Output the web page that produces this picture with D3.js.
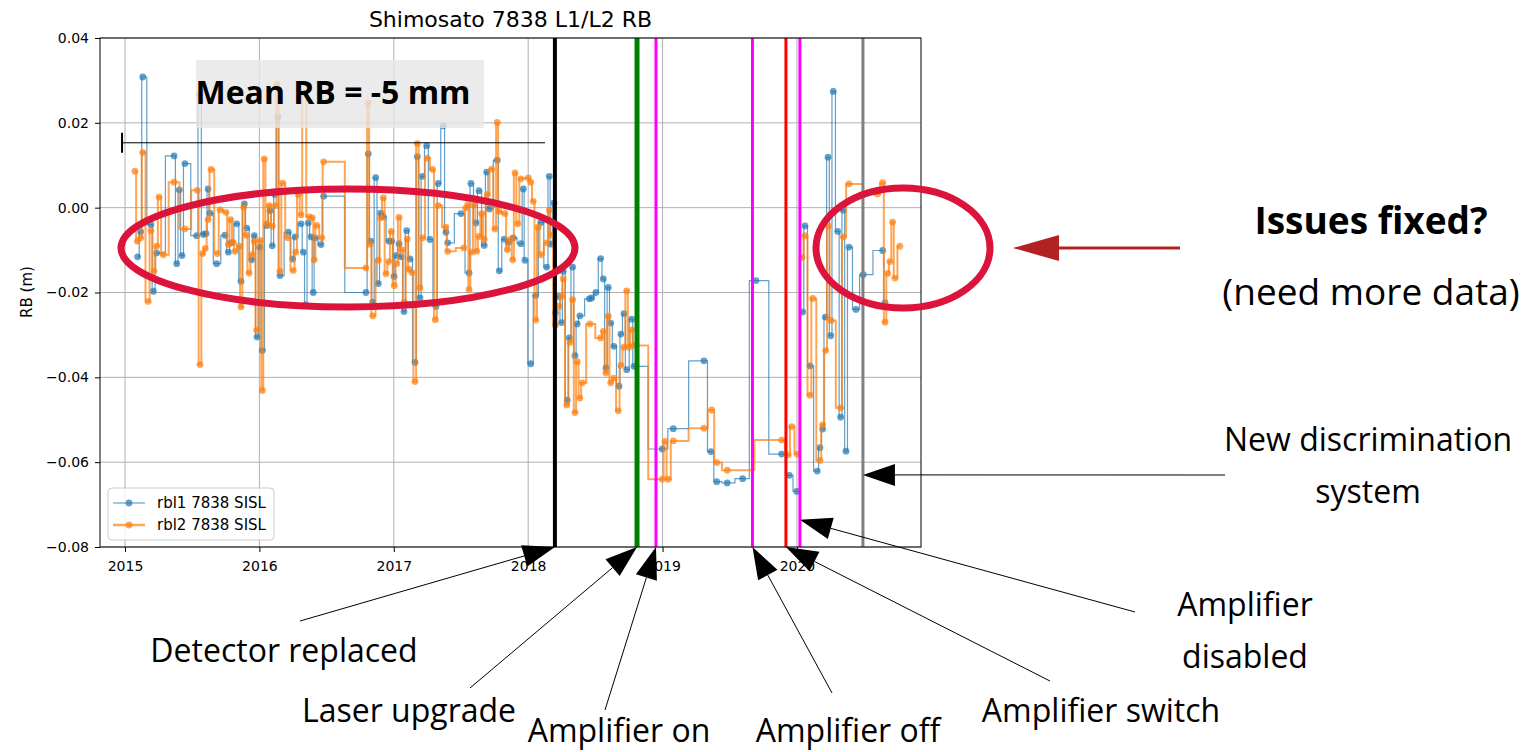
<!DOCTYPE html>
<html><head><meta charset="utf-8">
<script src="https://cdn.jsdelivr.net/npm/d3@7"></script>
<style>body{margin:0;background:#fff;}svg{display:block}</style>
</head><body>
<svg id="c" width="1532" height="752"></svg>
<script>
// ---------------- DATA ----------------
const xTickYears = [2015, 2016, 2017, 2018, 2019, 2020];
const yTickValues = [0.04, 0.02, 0.00, -0.02, -0.04, -0.06, -0.08];

const blueYears = [
2015.094,2015.117,2015.132,2015.193,2015.211,2015.236,2015.365,2015.385,2015.404,2015.424,
2015.446,2015.533,2015.553,2015.583,2015.603,2015.618,2015.632,2015.682,2015.744,2015.769,
2015.789,2015.831,2015.863,2015.888,2015.906,2015.943,2015.962,2015.982,2016.002,2016.022,
2016.054,2016.079,2016.096,2016.116,2016.136,2016.153,2016.215,2016.248,2016.265,2016.310,
2016.327,2016.345,2016.364,2016.384,2016.401,2016.414,2016.458,2016.478,2016.793,2016.810,
2016.828,2016.843,2016.865,2016.885,2016.903,2016.922,2016.964,2016.984,2017.002,2017.016,
2017.039,2017.054,2017.076,2017.096,2017.121,2017.158,2017.175,2017.195,2017.212,2017.245,
2017.269,2017.314,2017.331,2017.368,2017.388,2017.401,2017.500,2017.560,2017.574,2017.612,
2017.634,2017.673,2017.691,2017.711,2017.770,2017.785,2017.822,2017.852,2017.889,2017.946,
2017.964,2017.976,2018.019,2018.056,2018.095,2018.138,2018.157,2018.170,2018.192,2018.203,
2018.224,2018.249,2018.261,2018.291,2018.306,2018.331,2018.348,2018.365,2018.385,2018.455,
2018.472,2018.504,2018.539,2018.559,2018.579,2018.596,2018.614,2018.638,2018.676,2018.690,
2018.713,2018.733,2018.770,2018.787,2018.998,2019.080,2019.308,2019.360,2019.403,2019.481,
2019.596,2019.695,2019.886,2019.943,2019.998,2020.042,2020.060,2020.097,2020.151,2020.171,
2020.191,2020.211,2020.231,2020.251,2020.270,2020.303,2020.325,2020.345,2020.365,2020.387,
2020.439,2020.493,2020.638,2020.655];
const blueRB = [
-0.0116,-0.0057,0.0308,-0.0040,-0.0197,-0.0107,0.0122,-0.0132,0.0042,-0.0113,
0.0104,-0.0066,0.0267,-0.0063,-0.0061,0.0044,-0.0013,-0.0132,-0.0065,-0.0105,
-0.0083,-0.0038,-0.0174,0.0009,-0.0048,-0.0123,-0.0066,-0.0305,-0.0093,-0.0337,
-0.0042,-0.0007,-0.0090,0.0031,0.0214,-0.0160,-0.0058,-0.0121,-0.0069,-0.0038,
-0.0105,-0.0229,-0.0036,-0.0069,-0.0200,-0.0071,-0.0087,0.0027,-0.0200,0.0127,
-0.0079,-0.0223,0.0071,-0.0179,-0.0013,-0.0021,-0.0079,-0.0079,-0.0162,-0.0113,
-0.0085,-0.0116,-0.0245,-0.0054,-0.0121,-0.0365,0.0120,-0.0213,0.0074,0.0146,
-0.0075,-0.0233,0.0057,0.0193,-0.0058,-0.0083,-0.0014,-0.0154,0.0057,-0.0036,
0.0040,-0.0089,0.0084,-0.0003,0.0112,-0.0149,-0.0074,-0.0082,-0.0071,-0.0085,
0.0044,-0.0124,-0.0368,-0.0207,-0.0035,-0.0140,0.0074,-0.0086,0.0011,-0.0248,
-0.0209,-0.0271,-0.0150,-0.0454,-0.0307,-0.0140,-0.0349,-0.0274,-0.0255,-0.0215,
-0.0213,-0.0200,-0.0120,-0.0168,-0.0378,-0.0188,-0.0272,-0.0327,-0.0421,-0.0298,
-0.0250,-0.0382,-0.0263,-0.0374,-0.0569,-0.0521,-0.0361,-0.0575,-0.0646,-0.0649,
-0.0639,-0.0172,-0.0581,-0.0631,-0.0669,-0.0246,-0.0043,-0.0373,-0.0621,-0.0566,
-0.0522,-0.0258,0.0119,-0.0302,0.0274,-0.0056,-0.0494,-0.0006,-0.0574,-0.0093,
-0.0240,-0.0158,-0.0101,-0.0224];

const orangeYears = [
2015.074,2015.092,2015.117,2015.132,2015.173,2015.193,2015.216,2015.236,2015.253,2015.285,
2015.365,2015.446,2015.538,2015.558,2015.578,2015.597,2015.618,2015.640,2015.688,2015.707,
2015.751,2015.769,2015.786,2015.806,2015.818,2015.850,2015.863,2015.883,2015.900,2015.923,
2015.943,2015.962,2015.980,2016.007,2016.022,2016.036,2016.054,2016.074,2016.096,2016.121,
2016.131,2016.153,2016.173,2016.211,2016.252,2016.270,2016.289,2016.310,2016.327,2016.371,
2016.394,2016.408,2016.426,2016.464,2016.478,2016.793,2016.810,2016.823,2016.843,2016.885,
2016.903,2016.922,2016.942,2016.962,2016.981,2017.004,2017.022,2017.039,2017.059,2017.078,
2017.100,2017.113,2017.135,2017.158,2017.175,2017.195,2017.215,2017.249,2017.289,2017.309,
2017.331,2017.388,2017.401,2017.522,2017.535,2017.550,2017.560,2017.580,2017.597,2017.617,
2017.634,2017.654,2017.673,2017.696,2017.728,2017.753,2017.770,2017.783,2017.827,2017.845,
2017.870,2017.885,2017.902,2017.922,2017.946,2018.001,2018.019,2018.038,2018.056,2018.075,
2018.095,2018.138,2018.157,2018.170,2018.203,2018.229,2018.249,2018.261,2018.287,2018.311,
2018.331,2018.348,2018.365,2018.385,2018.403,2018.460,2018.539,2018.559,2018.579,2018.596,
2018.614,2018.638,2018.670,2018.690,2018.713,2018.733,2018.750,2018.770,2018.789,2018.998,
2019.018,2019.042,2019.080,2019.308,2019.365,2019.403,2019.481,2019.886,2019.935,2019.961,
2020.002,2020.039,2020.060,2020.097,2020.117,2020.171,2020.191,2020.214,2020.233,2020.253,
2020.325,2020.345,2020.387,2020.598,2020.638,2020.655,2020.675,2020.692,2020.712,2020.729,
2020.766];
const orangeRB = [
0.0086,-0.0079,-0.0071,0.0130,-0.0221,-0.0054,-0.0150,-0.0091,0.0025,-0.0111,
0.0060,-0.0050,0.0041,-0.0370,-0.0108,-0.0096,-0.0028,0.0090,-0.0108,-0.0005,
-0.0011,-0.0087,-0.0028,-0.0082,-0.0103,-0.0091,-0.0234,0.0001,-0.0065,-0.0154,
-0.0111,-0.0079,-0.0289,-0.0077,-0.0431,0.0115,-0.0038,0.0005,-0.0044,0.0005,
0.0292,-0.0150,0.0058,-0.0071,-0.0148,-0.0105,0.0031,-0.0017,0.0271,-0.0022,
-0.0024,-0.0123,-0.0042,-0.0071,0.0108,-0.0142,0.0247,-0.0086,-0.0255,-0.0124,
-0.0024,0.0023,-0.0156,-0.0127,-0.0056,-0.0184,-0.0132,-0.0023,-0.0099,-0.0223,
-0.0074,-0.0145,-0.0153,-0.0410,0.0151,-0.0189,-0.0071,0.0117,0.0090,-0.0264,
0.0005,-0.0046,-0.0103,-0.0095,-0.0001,0.0007,-0.0193,-0.0105,0.0007,-0.0103,
-0.0068,-0.0014,-0.0075,0.0031,0.0091,-0.0050,0.0201,-0.0009,-0.0014,-0.0099,
-0.0075,-0.0123,0.0082,-0.0038,0.0068,0.0070,0.0060,0.0015,-0.0265,-0.0046,
-0.0111,-0.0083,-0.0006,-0.0064,-0.0277,-0.0233,-0.0209,-0.0168,-0.0465,-0.0318,
-0.0217,-0.0483,-0.0363,-0.0449,-0.0413,-0.0274,-0.0307,-0.0292,-0.0390,-0.0256,
-0.0413,-0.0402,-0.0479,-0.0372,-0.0329,-0.0196,-0.0329,-0.0288,-0.0325,-0.0640,
-0.0551,-0.0640,-0.0550,-0.0520,-0.0477,-0.0601,-0.0619,-0.0548,-0.0583,-0.0516,
-0.0581,-0.0117,-0.0066,-0.0442,-0.0214,-0.0596,-0.0512,-0.0337,-0.0043,-0.0266,
-0.0472,-0.0069,0.0056,0.0032,0.0059,-0.0270,-0.0155,-0.0127,-0.0034,-0.0166,
-0.0091];

const seriesNames = ["rbl1 7838 SISL", "rbl2 7838 SISL"];
const eventYears = [2018.199, 2018.810, 2018.951, 2019.669, 2019.918, 2020.022, 2020.491];
const eventColors = ["#000000", "#008000", "#ff00ff", "#ff00ff", "#ff0000", "#ff00ff", "#808080"];
const eventWidths = [4, 5, 3, 3, 3, 3, 3];
const meanLineLevel = 0.0153;
const meanLineYears = [2014.978, 2018.125];
const meanLabel = "Mean RB = -5 mm";

// ---------------- CHART ----------------
const svg = d3.select("#c");
const M = {l: 100, r: 921, t: 38, b: 547};
const x = d3.scaleLinear().domain([2014.814, 2020.923]).range([M.l, M.r]);
const y = d3.scaleLinear().domain([-0.08, 0.04]).range([M.b, M.t]);
const FONT = "DejaVu Sans, sans-serif";
const AFONT = "'Open Sans', sans-serif";

// grid
const grid = svg.append("g");
grid.selectAll(".gx").data(xTickYears).join("line")
  .attr("x1", d => x(d)).attr("x2", d => x(d)).attr("y1", M.t).attr("y2", M.b)
  .attr("stroke", "#b0b0b0").attr("stroke-width", 1);
grid.selectAll(".gy").data(yTickValues).join("line")
  .attr("x1", M.l).attr("x2", M.r).attr("y1", d => y(d)).attr("y2", d => y(d))
  .attr("stroke", "#b0b0b0").attr("stroke-width", 1);

// series
const blue = blueYears.map((d, i) => ({t: d, v: blueRB[i]}));
const orange = orangeYears.map((d, i) => ({t: d, v: orangeRB[i]}));
const line = d3.line().x(d => x(d.t)).y(d => y(d.v)).curve(d3.curveStep);

function drawSeries(data, color, w) {
  const g = svg.append("g");
  g.append("path").datum(data).attr("d", line).attr("fill", "none")
    .attr("stroke", color).attr("stroke-width", w).attr("stroke-opacity", 0.7)
    .attr("stroke-linejoin", "miter");
  g.selectAll("circle").data(data).join("circle")
    .attr("cx", d => x(d.t)).attr("cy", d => y(d.v)).attr("r", 3.4)
    .attr("fill", color).attr("fill-opacity", 0.7);
}
drawSeries(blue, "#1f77b4", 1.2);
drawSeries(orange, "#ff7f0e", 2);

// event lines
svg.append("g").selectAll("line").data(eventYears).join("line")
  .attr("x1", d => x(d)).attr("x2", d => x(d)).attr("y1", M.t).attr("y2", M.b)
  .attr("stroke", (d, i) => eventColors[i]).attr("stroke-width", (d, i) => eventWidths[i]);

// frame
svg.append("rect").attr("x", M.l).attr("y", M.t).attr("width", M.r - M.l).attr("height", M.b - M.t)
  .attr("fill", "none").attr("stroke", "#000").attr("stroke-width", 1);

// axes
const ax = svg.append("g").attr("transform", `translate(0,${M.b})`)
  .call(d3.axisBottom(x).tickValues(xTickYears).tickFormat(d3.format("d")).tickSize(5).tickPadding(9));
ax.select(".domain").remove();
ax.attr("font-family", FONT).attr("font-size", 14);
const ay = svg.append("g").attr("transform", `translate(${M.l},0)`)
  .call(d3.axisLeft(y).tickValues(yTickValues).tickFormat(d3.format(".2f")).tickSize(5).tickPadding(6));
ay.select(".domain").remove();
ay.attr("font-family", FONT).attr("font-size", 14);

svg.append("text").attr("transform", `translate(32,292) rotate(-90)`)
  .attr("text-anchor", "middle").attr("font-family", FONT).attr("font-size", 15).text("RB (m)");

svg.append("text").attr("x", (M.l + M.r) / 2).attr("y", 27).attr("text-anchor", "middle")
  .attr("font-family", FONT).attr("font-size", 22).text("Shimosato 7838 L1/L2 RB");

// mean line with cap
svg.append("line").attr("x1", x(meanLineYears[0])).attr("x2", x(meanLineYears[1]))
  .attr("y1", y(meanLineLevel)).attr("y2", y(meanLineLevel)).attr("stroke", "#000").attr("stroke-width", 1);
svg.append("line").attr("x1", x(meanLineYears[0])).attr("x2", x(meanLineYears[0]))
  .attr("y1", y(meanLineLevel) - 10).attr("y2", y(meanLineLevel) + 10).attr("stroke", "#000").attr("stroke-width", 2);

// mean label box
svg.append("rect").attr("x", 196).attr("y", 60).attr("width", 288).attr("height", 68)
  .attr("fill", "#e6e6e6").attr("fill-opacity", 0.8);
svg.append("text").attr("x", 333).attr("y", 104).attr("text-anchor", "middle")
  .attr("font-family", AFONT).attr("font-weight", "bold").attr("font-size", 32).text(meanLabel);

// legend
const lg = svg.append("g");
lg.append("rect").attr("x", 108).attr("y", 488).attr("width", 166).attr("height", 52).attr("rx", 4)
  .attr("fill", "#fff").attr("fill-opacity", 0.8).attr("stroke", "#cccccc");
[["#1f77b4", 1.2], ["#ff7f0e", 2.5]].forEach((s, i) => {
  const yy = 503 + i * 22;
  lg.append("line").attr("x1", 113).attr("x2", 145).attr("y1", yy).attr("y2", yy)
    .attr("stroke", s[0]).attr("stroke-width", s[1]).attr("stroke-opacity", 0.7);
  lg.append("circle").attr("cx", 129).attr("cy", yy).attr("r", 3.4).attr("fill", s[0]).attr("fill-opacity", 0.7);
  lg.append("text").attr("x", 157).attr("y", yy + 5).attr("font-family", FONT).attr("font-size", 15).text(seriesNames[i]);
});

// ellipses
svg.append("ellipse").attr("cx", 348).attr("cy", 248).attr("rx", 227).attr("ry", 59)
  .attr("fill", "none").attr("stroke", "#dc143c").attr("stroke-width", 7);
svg.append("ellipse").attr("cx", 903).attr("cy", 248).attr("rx", 87).attr("ry", 60)
  .attr("fill", "none").attr("stroke", "#dc143c").attr("stroke-width", 7);

// arrows
function arrow(sx, sy, tx, ty, color, lw, L, Wd) {
  const dx = tx - sx, dy = ty - sy, len = Math.hypot(dx, dy);
  const ux = dx / len, uy = dy / len, nx = -uy, ny = ux;
  const bx = tx - ux * L, by = ty - uy * L;
  svg.append("line").attr("x1", sx).attr("y1", sy).attr("x2", bx).attr("y2", by)
    .attr("stroke", color).attr("stroke-width", lw);
  svg.append("path").attr("d", `M${tx},${ty}L${bx + nx * Wd / 2},${by + ny * Wd / 2}L${bx - nx * Wd / 2},${by - ny * Wd / 2}Z`)
    .attr("fill", color);
}
const notes = [
  {lines: ["Detector replaced"], tx: 284, ty: 662, sx: 300, sy: 621, ev: 0, tipV: -0.08},
  {lines: ["Laser upgrade"], tx: 409, ty: 722, sx: 470, sy: 688, ev: 1, tipV: -0.08},
  {lines: ["Amplifier on"], tx: 619, ty: 742, sx: 605, sy: 710, ev: 2, tipV: -0.08},
  {lines: ["Amplifier off"], tx: 848, ty: 742, sx: 832, sy: 693, ev: 3, tipV: -0.08},
  {lines: ["Amplifier switch"], tx: 1101, ty: 722, sx: 1050, sy: 681, ev: 4, tipV: -0.08},
  {lines: ["Amplifier", "disabled"], tx: 1245, ty: 616, sx: 1135, sy: 612, ev: 5, tipV: -0.0736},
  {lines: ["New discrimination", "system"], tx: 1368, ty: 451, sx: 1225, sy: 475, ev: 6, tipV: -0.063}
];
notes.forEach(n => {
  arrow(n.sx, n.sy, x(eventYears[n.ev]), y(n.tipV), "#000", 1, 32, 22);
  n.lines.forEach((t, i) => {
    svg.append("text").attr("x", n.tx).attr("y", n.ty + i * 52).attr("text-anchor", "middle")
      .attr("font-family", AFONT).attr("font-size", 32).attr("fill", "#000").text(t);
  });
});

// right side note
arrow(1180, 248, 1013, 248, "#b22222", 3, 46, 26);
svg.append("text").attr("x", 1371).attr("y", 234).attr("text-anchor", "middle")
  .attr("font-family", AFONT).attr("font-weight", "bold").attr("font-size", 37).text("Issues fixed?");
svg.append("text").attr("x", 1371).attr("y", 305).attr("text-anchor", "middle")
  .attr("font-family", AFONT).attr("font-size", 37).text("(need more data)");
</script>
</body></html>
